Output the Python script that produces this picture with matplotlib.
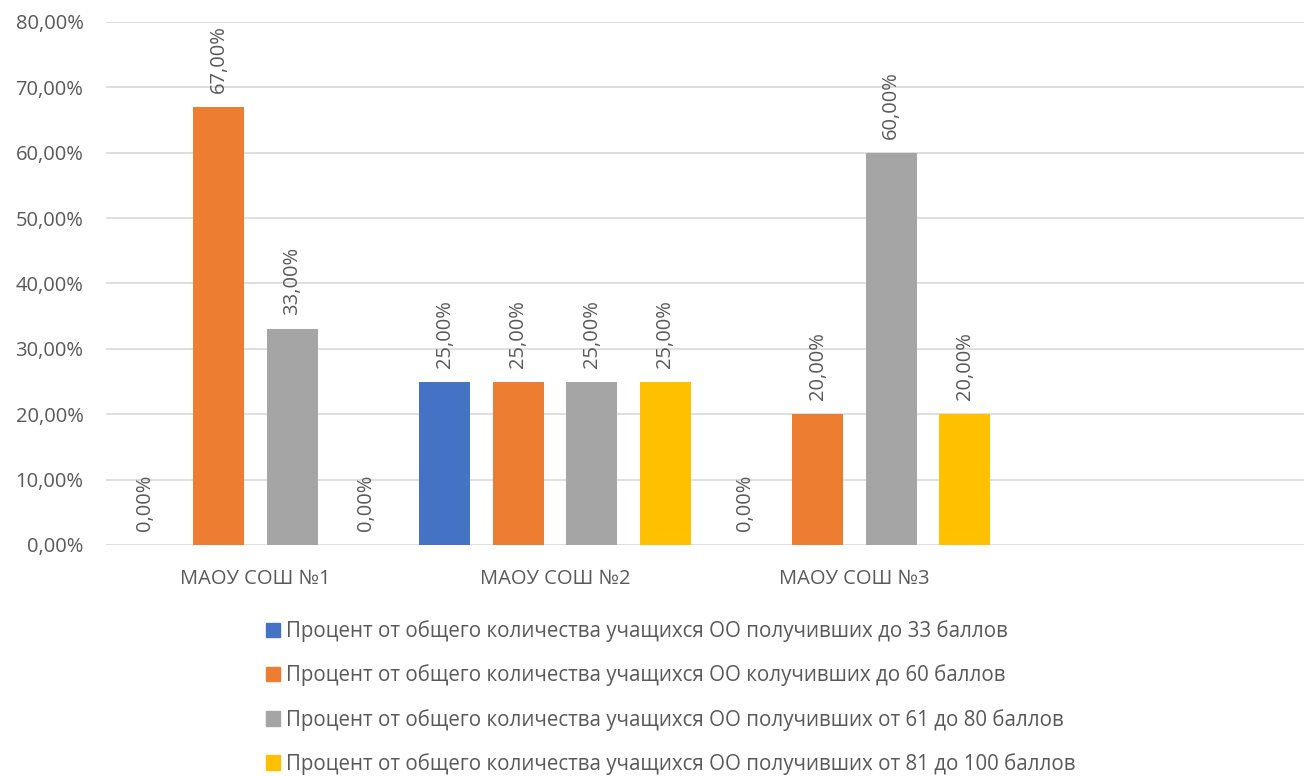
import numpy as np
import matplotlib
matplotlib.use('Agg')
import matplotlib.pyplot as plt
from matplotlib.patches import Patch

plt.rcParams['font.family'] = ['Open Sans', 'DejaVu Sans']

schools = ['МАОУ СОШ №1', 'МАОУ СОШ №2', 'МАОУ СОШ №3', '']
series_names = [
    'Процент от общего количества учащихся ОО получивших до 33 баллов',
    'Процент от общего количества учащихся ОО колучивших до 60 баллов',
    'Процент от общего количества учащихся ОО получивших от 61 до 80 баллов',
    'Процент от общего количества учащихся ОО получивших от 81 до 100 баллов',
]
# None = no data for that category (empty 4th slot)
upto33 = [0, 25, 0, None]
upto60 = [67, 25, 20, None]
from61to80 = [33, 25, 60, None]
from81to100 = [0, 25, 20, None]
colors = ['#4472C4', '#ED7D31', '#A5A5A5', '#FFC000']

series = [upto33, upto60, from61to80, from81to100]
text_col = '#595959'

fig = plt.figure(figsize=(13.04, 7.76), dpi=100)
ax = fig.add_axes([0.081, 0.2977, 0.919, 0.674])

x = np.arange(len(schools))
width = 0.17
step = 0.245
for i, vals in enumerate(series):
    pos = x + (i - 1.5) * step
    for p, v in zip(pos, vals):
        if v is None:
            continue
        ax.bar(p, v, width=width, color=colors[i], zorder=3)
        ax.annotate(f'{v:.2f}%'.replace('.', ','), (p, v),
                    xytext=(0, 10), textcoords='offset points',
                    rotation=90, ha='center', va='bottom',
                    fontsize=14.5, color=text_col)

ax.set_xlim(-0.5, 3.5)
ax.set_ylim(0, 80)
ax.set_yticks(np.arange(0, 81, 10))
ax.set_yticklabels([f'{t},00%' for t in range(0, 81, 10)])
ax.set_xticks(x)
ax.set_xticklabels(schools)
ax.tick_params(length=0, labelsize=14.5, colors=text_col)
ax.tick_params(axis='x', pad=17)
ax.tick_params(axis='y', pad=16)
ax.grid(axis='y', color='#D9D9D9', linewidth=1.2, zorder=0)
for s in ax.spines.values():
    s.set_visible(False)

handles = [Patch(color=c) for c in colors]
fig.legend(handles, series_names, loc='upper left',
           bbox_to_anchor=(247 / 1304, 1 - 602 / 776), frameon=False,
           fontsize=14.8, labelcolor=text_col, handlelength=0.7,
           handleheight=0.7, handletextpad=0.3, labelspacing=1.08)

fig.savefig('out.png', dpi=100)
